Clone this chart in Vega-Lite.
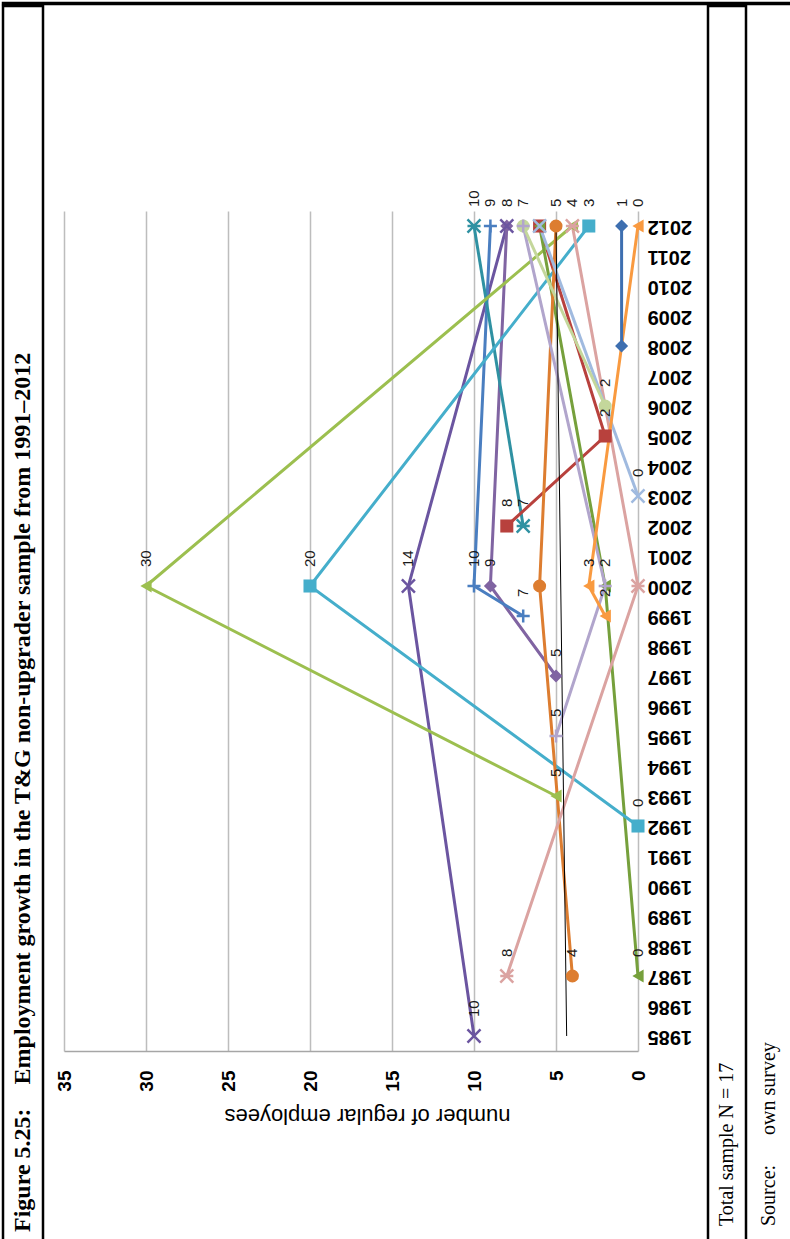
{
  "$schema": "https://vega.github.io/schema/vega-lite/v6.json",
  "padding": {"left": 1, "top": 1, "right": 0, "bottom": 0},
  "background": "white",
  "config": {"view": {"stroke": null}},
  "datasets": {
    "pts": [
      {"s": "F01", "year": 1985, "v": 10, "label": "10"},
      {"s": "F01", "year": 2000, "v": 14, "label": "14"},
      {"s": "F01", "year": 2012, "v": 8, "label": null},
      {"s": "F02", "year": 1997, "v": 5, "label": "5"},
      {"s": "F02", "year": 2000, "v": 9, "label": "9"},
      {"s": "F02", "year": 2012, "v": 8, "label": "8"},
      {"s": "F03", "year": 1999, "v": 7, "label": "7"},
      {"s": "F03", "year": 2000, "v": 10, "label": "10"},
      {"s": "F03", "year": 2012, "v": 9, "label": "9"},
      {"s": "F04", "year": 2002, "v": 7, "label": "7"},
      {"s": "F04", "year": 2012, "v": 10, "label": "10"},
      {"s": "F05", "year": 2002, "v": 8, "label": "8"},
      {"s": "F05", "year": 2005, "v": 2, "label": "2"},
      {"s": "F05", "year": 2012, "v": 6, "label": null},
      {"s": "F06", "year": 1993, "v": 5, "label": "5"},
      {"s": "F06", "year": 2000, "v": 30, "label": "30"},
      {"s": "F06", "year": 2012, "v": 4, "label": null},
      {"s": "F07", "year": 1987, "v": 0, "label": "0"},
      {"s": "F07", "year": 2000, "v": 2, "label": "2"},
      {"s": "F07", "year": 2012, "v": 6, "label": null},
      {"s": "F08", "year": 1992, "v": 0, "label": "0"},
      {"s": "F08", "year": 2000, "v": 20, "label": "20"},
      {"s": "F08", "year": 2012, "v": 3, "label": "3"},
      {"s": "F09", "year": 1987, "v": 4, "label": "4"},
      {"s": "F09", "year": 2000, "v": 6, "label": null},
      {"s": "F09", "year": 2012, "v": 5, "label": "5"},
      {"s": "F10", "year": 1987, "v": 8, "label": "8"},
      {"s": "F10", "year": 2000, "v": 0, "label": null},
      {"s": "F10", "year": 2012, "v": 4, "label": "4"},
      {"s": "F11", "year": 1995, "v": 5, "label": "5"},
      {"s": "F11", "year": 2000, "v": 2, "label": null},
      {"s": "F11", "year": 2012, "v": 7, "label": null},
      {"s": "F12", "year": 2003, "v": 0, "label": "0"},
      {"s": "F12", "year": 2012, "v": 6, "label": null},
      {"s": "F13", "year": 1999, "v": 2, "label": "2"},
      {"s": "F13", "year": 2000, "v": 3, "label": "3"},
      {"s": "F13", "year": 2012, "v": 0, "label": "0"},
      {"s": "F14", "year": 2008, "v": 1, "label": null},
      {"s": "F14", "year": 2012, "v": 1, "label": "1"},
      {"s": "F15", "year": 2006, "v": 2, "label": "2"},
      {"s": "F15", "year": 2012, "v": 7, "label": "7"},
      {"s": "Trend", "year": 1985, "v": 4.35, "label": null},
      {"s": "Trend", "year": 2012, "v": 5.0, "label": null}
    ]
  },
  "spacing": -3.5,
  "vconcat": [
    {
      "width": 800,
      "height": 1,
      "view": {"stroke": "black", "strokeWidth": 2.5},
      "data": {"values": []},
      "mark": {"type": "text", "text": ""}
    },
    {
      "spacing": 0,
      "hconcat": [
        {
          "width": 40,
          "height": 1250,
          "view": {"stroke": "black", "strokeWidth": 2.5},
          "data": {"values": [{"t": "Figure 5.25:\u00a0\u00a0\u00a0\u00a0Employment growth in the T&G non-upgrader sample from 1991\u20132012"}]},
          "mark": {"type": "text", "angle": 270, "align": "left", "baseline": "middle", "dx": -601, "font": "Liberation Serif", "fontSize": 24, "fontWeight": "bold", "color": "black"},
          "encoding": {"text": {"field": "t"}}
        },
        {
          "width": 10,
          "height": 10,
          "data": {"values": []},
          "mark": {"type": "text", "text": ""}
        },
        {
          "spacing": 204,
          "bounds": "flush",
          "vconcat": [
            {
              "width": 1,
              "height": 1,
              "data": {"values": []},
              "mark": {"type": "text", "text": ""}
            },
            {
              "width": 574,
              "height": 840,
              "data": {"name": "pts"},
              "encoding": {
                "x": {
                  "field": "v",
                  "type": "quantitative",
                  "scale": {"domain": [0, 35], "reverse": true, "nice": false, "zero": true},
                  "axis": {
                    "values": [0, 5, 10, 15, 20, 25, 30, 35],
                    "grid": true, "gridColor": "#BDBDBD", "gridWidth": 1.5,
                    "domain": true, "domainColor": "#A6A6A6", "domainWidth": 1.5,
                    "ticks": false, "tickSize": 0,
                    "labelAngle": 270, "labelPadding": 19,
                    "labelFont": "Liberation Sans", "labelFontSize": 19, "labelFontWeight": "bold", "labelColor": "black",
                    "title": "number of regular employees",
                    "titleAngle": 180, "titleBaseline": "bottom", "titlePadding": 12, "titleX": 303,
                    "titleFont": "Liberation Sans", "titleFontSize": 22, "titleFontWeight": "normal", "titleColor": "black"
                  }
                },
                "y": {
                  "field": "year",
                  "type": "ordinal",
                  "scale": {"domain": [1985,1986,1987,1988,1989,1990,1991,1992,1993,1994,1995,1996,1997,1998,1999,2000,2001,2002,2003,2004,2005,2006,2007,2008,2009,2010,2011,2012], "reverse": true},
                  "axis": {
                    "orient": "right", "grid": false, "domain": false, "ticks": false, "tickSize": 0,
                    "labelAngle": 180, "labelPadding": 9,
                    "labelFont": "Liberation Sans", "labelFontSize": 20, "labelFontWeight": "bold", "labelColor": "black",
                    "title": null
                  }
                }
              },
              "layer": [
                {
                  "transform": [{"filter": "datum.s !== 'Trend'"}],
                  "mark": {"type": "line", "strokeWidth": 3},
                  "encoding": {
                    "color": {
                      "field": "s", "type": "nominal", "legend": null,
                      "scale": {
                        "domain": ["F01","F02","F03","F04","F05","F06","F07","F08","F09","F10","F11","F12","F13","F14","F15"],
                        "range": ["#6B55A0","#8064A2","#4A7EC0","#2F91A2","#B8413D","#9CBF4F","#76A03C","#45AECB","#DD7D30","#DBA3A1","#B1A5CC","#A0BADF","#F99A40","#3E6FB0","#C4D79B"]
                      }
                    },
                    "order": {"field": "year", "type": "quantitative"}
                  }
                },
                {
                  "transform": [{"filter": "datum.s === 'Trend'"}],
                  "mark": {"type": "line", "strokeWidth": 1, "color": "black"},
                  "encoding": {"order": {"field": "year", "type": "quantitative"}}
                },
                {
                  "transform": [{"filter": {"field": "s", "oneOf": ["F02","F05","F06","F07","F08","F09","F13","F14","F15"]}}],
                  "mark": {"type": "point", "filled": true, "size": 170, "opacity": 1},
                  "encoding": {
                    "color": {"field": "s", "type": "nominal", "legend": null},
                    "shape": {
                      "field": "s", "type": "nominal", "legend": null,
                      "scale": {
                        "domain": ["F01","F02","F03","F04","F05","F06","F07","F08","F09","F10","F11","F12","F13","F14","F15"],
                        "range": ["M-1,-1L1,1M-1,1L1,-1","diamond","M-1,0L1,0M0,-1L0,1","M-1,-1L1,1M-1,1L1,-1M-1,0L1,0","square","triangle-left","triangle-left","square","circle","M-1,-1L1,1M-1,1L1,-1M-1,0L1,0","M-1,0L1,0M0,-1L0,1","M-1,-1L1,1M-1,1L1,-1","triangle-left","diamond","circle"]
                      }
                    }
                  }
                },
                {
                  "transform": [{"filter": {"field": "s", "oneOf": ["F01","F03","F04","F10","F11","F12"]}}],
                  "mark": {"type": "point", "filled": false, "size": 170, "strokeWidth": 2.5, "opacity": 1},
                  "encoding": {
                    "color": {"field": "s", "type": "nominal", "legend": null},
                    "shape": {"field": "s", "type": "nominal", "legend": null}
                  }
                },
                {
                  "transform": [{"filter": "datum.label != null"}],
                  "mark": {"type": "text", "angle": 270, "align": "left", "baseline": "middle", "dx": 19, "font": "Liberation Sans", "fontSize": 15, "color": "#1a1a1a"},
                  "encoding": {"text": {"field": "label"}}
                }
              ]
            }
          ]
        },
        {
          "width": 14,
          "height": 10,
          "data": {"values": []},
          "mark": {"type": "text", "text": ""}
        },
        {
          "width": 38,
          "height": 1250,
          "view": {"stroke": "black", "strokeWidth": 2.5},
          "data": {"values": [{"t": "Total sample N = 17"}]},
          "mark": {"type": "text", "angle": 270, "align": "left", "baseline": "middle", "dx": -595, "font": "Liberation Serif", "fontSize": 20, "color": "black"},
          "encoding": {"text": {"field": "t"}}
        },
        {
          "width": 42,
          "height": 1250,
          "data": {"values": [{"t": "Source:\u00a0\u00a0\u00a0\u00a0\u00a0\u00a0own survey"}]},
          "mark": {"type": "text", "angle": 270, "align": "left", "baseline": "middle", "dx": -595, "font": "Liberation Serif", "fontSize": 20, "color": "black"},
          "encoding": {"text": {"field": "t"}}
        }
      ]
    }
  ]
}
